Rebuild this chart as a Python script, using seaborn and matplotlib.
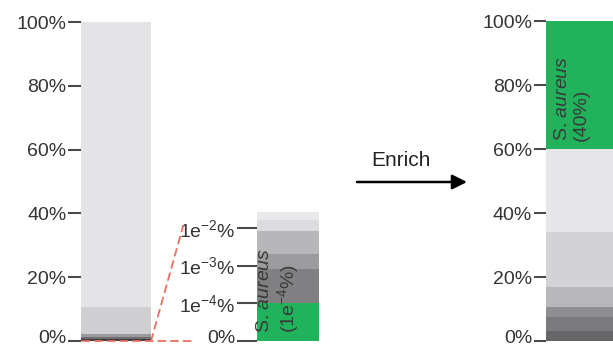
import matplotlib
matplotlib.use('Agg')
import matplotlib.pyplot as plt
import seaborn as sns
from matplotlib.patches import ConnectionPatch
from matplotlib.ticker import NullLocator
from matplotlib.transforms import ScaledTranslation

# --- data (cumulative tops of each stacked segment, bottom to top) ---
left_tops = [0.5, 1.2, 2.2, 10.6, 100]
left_colors = ['#3e3e40', '#6e6e70', '#9a9a9c', '#cfcfd1', '#e4e4e6']

inset_tops = [1e-4, 8.2e-4, 2.05e-3, 8.5e-3, 1.66e-2, 2.7e-2]
inset_colors = ['#21b25c', '#808082', '#9c9c9e', '#b7b7b9', '#dcdcde', '#e9e9eb']
inset_ticks = [0, 1e-4, 1e-3, 1e-2]
inset_labels = ['0%', '1e$^{-4}$%', '1e$^{-3}$%', '1e$^{-2}$%']

right_tops = [3.2, 7.6, 10.6, 16.9, 34.2, 60, 100]
right_colors = ['#666668', '#7b7b7d', '#8f8f91', '#b8b8ba', '#d3d3d5', '#e6e6e8', '#21b25c']

pct_ticks = [0, 20, 40, 60, 80, 100]
pct_labels = ['0%', '20%', '40%', '60%', '80%', '100%']

sns.set_style('white')
plt.rcParams['font.family'] = ['Liberation Sans', 'DejaVu Sans']
plt.rcParams['mathtext.fontset'] = 'custom'
plt.rcParams['mathtext.rm'] = 'Liberation Sans'
plt.rcParams['mathtext.it'] = 'Liberation Sans:italic'
plt.rcParams['mathtext.default'] = 'regular'

W, H = 613, 348
fig = plt.figure(figsize=(W / 100, H / 100), dpi=100)


def px_axes(l, t, r, b):
    return fig.add_axes([l / W, 1 - b / H, (r - l) / W, (b - t) / H])


def stacked(ax, tops, colors):
    # draw tallest first so the shorter ones sit on top
    for top, c in sorted(zip(tops, colors), key=lambda p: -p[0]):
        sns.barplot(x=['s'], y=[top], color=c, width=1, saturation=1,
                    linewidth=0, ax=ax)
    ax.set_xlim(-0.5, 0.5)
    ax.set_xticks([])
    ax.set_xlabel('')
    ax.set_ylabel('')
    for s in ax.spines.values():
        s.set_visible(False)
    ax.patch.set_alpha(0)


def style_ticks(ax, length):
    ax.tick_params(axis='y', left=True, length=length, width=1.5,
                   color='#4a4a4a', pad=1, labelsize=14, labelcolor='#333333')
    # the bottom "0%" label sits a little above its tick
    lab = ax.get_yticklabels()[0]
    lab.set_transform(lab.get_transform() +
                      ScaledTranslation(0, 3.5 / 72, fig.dpi_scale_trans))


# left bar
ax1 = px_axes(81, 22, 151, 341)
stacked(ax1, left_tops, left_colors)
ax1.set_ylim(0, 100)
ax1.set_yticks(pct_ticks, pct_labels)
style_ticks(ax1, 9.5)

# inset (log-like scale)
ax2 = px_axes(257, 190.2, 319, 341)
stacked(ax2, inset_tops, inset_colors)
ax2.set_yscale('symlog', linthresh=1e-4, linscale=0.9)
ax2.set_ylim(0, 0.1)
ax2.set_yticks(inset_ticks, inset_labels)
ax2.yaxis.set_minor_locator(NullLocator())
style_ticks(ax2, 14.5)
ax2.text(-0.15, 2e-5, 'S. $\\mathit{aureus}$\n(1e$^{-4}$%)', rotation=90,
         ha='center', va='bottom', multialignment='left', fontsize=14,
         color='#3a3a3a', linespacing=1.1)

# right bar
ax3 = px_axes(546, 21, 613, 341)
stacked(ax3, right_tops, right_colors)
ax3.set_ylim(0, 100)
ax3.set_yticks(pct_ticks, pct_labels)
style_ticks(ax3, 9)
ax3.text(-0.11, 62.5, 'S. $\\mathit{aureus}$\n(40%)', rotation=90,
         ha='center', va='bottom', multialignment='left', fontsize=14,
         color='#3a3a3a', linespacing=1.1)

# red dashed zoom lines
red = '#e8705f'
diag = ConnectionPatch(xyA=(0.5, 0), coordsA=ax1.transData,
                       xyB=(-1.19, 1.15e-2), coordsB=ax2.get_yaxis_transform(),
                       color=red, lw=1.3, ls=(0, (4, 3)))
horiz = ConnectionPatch(xyA=(-0.48, 0), coordsA=ax1.transData,
                        xyB=(-1.03, 0), coordsB=ax2.get_yaxis_transform(),
                        color=red, lw=1.3, ls=(0, (4, 3)))
fig.add_artist(horiz)
fig.add_artist(diag)

# enrich arrow
fig.text(401 / W, 1 - 160 / H, 'Enrich', ha='center', va='center',
         fontsize=15, color='#222222')
ax3.annotate('', xy=(467 / W, 1 - 182 / H), xytext=(357 / W, 1 - 182 / H),
             xycoords='figure fraction', textcoords='figure fraction',
             arrowprops=dict(arrowstyle='-|>', color='black', lw=1.8,
                             mutation_scale=22, shrinkA=0, shrinkB=0))

fig.savefig('out.png', dpi=100)
